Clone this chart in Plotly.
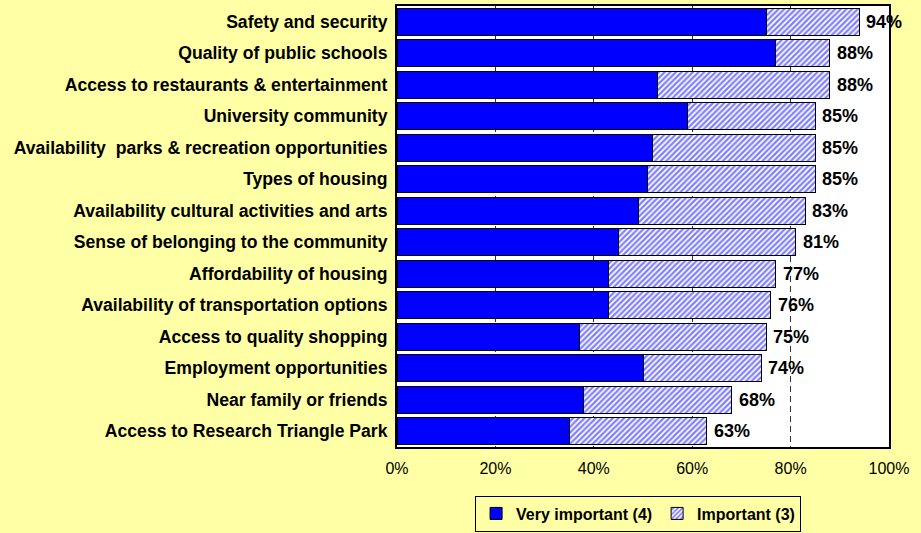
import plotly.graph_objects as go

# Community attributes, top to bottom
categories = [
    "Safety and security",
    "Quality of public schools",
    "Access to restaurants & entertainment",
    "University community",
    "Availability  parks & recreation opportunities",
    "Types of housing",
    "Availability cultural activities and arts",
    "Sense of belonging to the community",
    "Affordability of housing",
    "Availability of transportation options",
    "Access to quality shopping",
    "Employment opportunities",
    "Near family or friends",
    "Access to Research Triangle Park",
]
very_important = [75, 77, 53, 59, 52, 51, 49, 45, 43, 43, 37, 50, 38, 35]
important = [19, 11, 35, 26, 33, 34, 34, 36, 34, 33, 38, 24, 30, 28]
totals = [94, 88, 88, 85, 85, 85, 83, 81, 77, 76, 75, 74, 68, 63]
x_ticks = [0, 20, 40, 60, 80, 100]

BG = "#FFFFA6"
BLUE = "#0000FF"
FONT = "Arial, Liberation Sans"

fig = go.Figure()
fig.add_trace(go.Bar(
    y=categories, x=very_important, orientation="h",
    name="<b>Very important (4)</b>",
    marker=dict(color=BLUE, line=dict(color="black", width=1)),
))
fig.add_trace(go.Bar(
    y=categories, x=important, orientation="h",
    name="<b>Important (3)</b>",
    marker=dict(
        color="white",
        line=dict(color="black", width=1),
        pattern=dict(shape="/", fgcolor=BLUE, bgcolor="white", size=4, solidity=0.55),
    ),
))

for cat, tot in zip(categories, totals):
    fig.add_annotation(
        x=tot, y=cat, text=f"<b>{tot}%</b>", showarrow=False,
        xanchor="left", xshift=5,
        font=dict(family=FONT, size=18, color="black"),
    )

fig.update_layout(
    barmode="stack",
    bargap=0.14,
    width=921, height=533,
    margin=dict(l=397, r=32, t=6, b=86, autoexpand=False),
    paper_bgcolor=BG,
    plot_bgcolor="white",
    font=dict(family=FONT, color="black"),
    legend=dict(
        orientation="h", x=0.49, xanchor="center", y=-0.11, yanchor="top",
        bgcolor=BG, bordercolor="black", borderwidth=1,
        font=dict(size=16, family=FONT),
        traceorder="normal", itemwidth=30, tracegroupgap=0,
    ),
    xaxis=dict(
        range=[0, 100], tickvals=x_ticks, ticktext=[f"{v}%" for v in x_ticks],
        tickfont=dict(size=16), showgrid=True, gridcolor="#333333", griddash="6px,4px",
        gridwidth=1, zeroline=False, showline=True, linecolor="black", linewidth=2,
        mirror=True, ticks="", ticklabelstandoff=6,
    ),
    yaxis=dict(
        autorange="reversed", tickfont=dict(size=17.6),
        showline=True, linecolor="black", linewidth=2, mirror=True,
        ticks="", ticklabelstandoff=4,
        tickprefix="<b>", ticksuffix="</b>",
    ),
)

fig.write_html("out.html")
